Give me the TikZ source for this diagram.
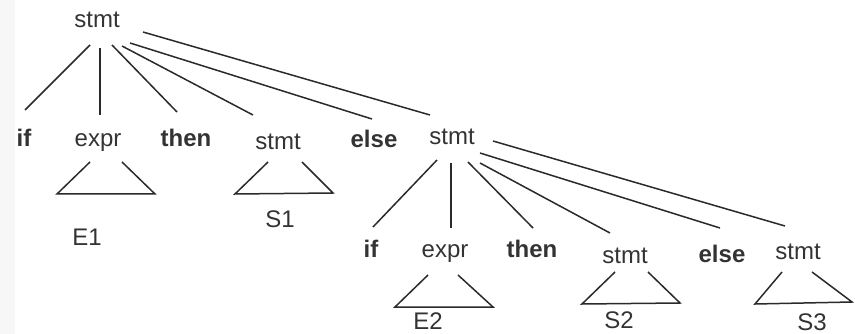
\documentclass[tikz,border=0pt]{standalone}
\usepackage{fontspec}
\setmainfont{Liberation Sans}
\definecolor{ink}{HTML}{2A2A2A}
\definecolor{txt}{HTML}{333333}
\begin{document}
\begin{tikzpicture}[x=1pt,y=-1pt,
  lab/.style={anchor=base,inner sep=0pt,text=txt,font=\fontsize{24}{28}\selectfont},
  kw/.style={lab,font=\fontsize{24}{28}\selectfont\bfseries},
  edge/.style={draw=ink,line width=1.5pt},
  tri/.style={draw=ink,line width=1.5pt}]
\useasboundingbox (0,0) rectangle (855,334);
\fill[black!3] (0,0) rectangle (15,334);
% level 0
\node[lab] (r) at (97,28) {stmt};
% level 1
\node[kw]  (if1) at (24,147) {if};
\node[lab] (ex1) at (98,147) {expr};
\node[kw]  (th1) at (186,147) {then};
\node[lab] (st1) at (278,150) {stmt};
\node[kw]  (el1) at (374,148) {else};
\node[lab] (sm)  at (452,145) {stmt};
\node[lab] (E1)  at (87,245) {E1};
\node[lab] (S1)  at (280,228) {S1};
% level 2
\node[kw]  (if2) at (371,258) {if};
\node[lab] (ex2) at (445,258) {expr};
\node[kw]  (th2) at (532,258) {then};
\node[lab] (st2) at (625,263) {stmt};
\node[kw]  (el2) at (722,262) {else};
\node[lab] (st3) at (798,259) {stmt};
\node[lab] (E2)  at (428,329) {E2};
\node[lab] (S2)  at (619,328) {S2};
\node[lab] (S3)  at (812,330) {S3};
% root edges
\draw[edge] ([shift={(-7,17)}]r.base) -- ([shift={(1,-37)}]if1.base);
\draw[edge] ([shift={(3,20)}]r.base) -- ([shift={(2,-32)}]ex1.base);
\draw[edge] ([shift={(15,17)}]r.base) -- ([shift={(-9,-35)}]th1.base);
\draw[edge] ([shift={(25,18)}]r.base) -- ([shift={(-25,-35)}]st1.base);
\draw[edge] ([shift={(33,15)}]r.base) -- ([shift={(-2,-29)}]el1.base);
\draw[edge] ([shift={(46,4)}]r.base) -- ([shift={(-22,-30)}]sm.base);
% middle stmt edges
\draw[edge] ([shift={(-15,15)}]sm.base) -- ([shift={(2,-31)}]if2.base);
\draw[edge] ([shift={(-1,18)}]sm.base) -- ([shift={(6,-30)}]ex2.base);
\draw[edge] ([shift={(16,17)}]sm.base) -- ([shift={(1,-30)}]th2.base);
\draw[edge] ([shift={(28,18)}]sm.base) -- ([shift={(-15,-30)}]st2.base);
\draw[edge] ([shift={(28,8)}]sm.base) -- ([shift={(-2,-34)}]el2.base);
\draw[edge] ([shift={(41,-4)}]sm.base) -- ([shift={(-13,-33)}]st3.base);
% subtree triangles
\draw[tri] ([shift={(-8,15)}]ex1.base) -- ([shift={(-41,47)}]ex1.base) -- ([shift={(57,47)}]ex1.base) -- ([shift={(24,15)}]ex1.base);
\draw[tri] ([shift={(-10,12)}]st1.base) -- ([shift={(-43,44)}]st1.base) -- ([shift={(55,43)}]st1.base) -- ([shift={(24,12)}]st1.base);
\draw[tri] ([shift={(-17,17)}]ex2.base) -- ([shift={(-50,49)}]ex2.base) -- ([shift={(48,49)}]ex2.base) -- ([shift={(13,17)}]ex2.base);
\draw[tri] ([shift={(-10,9)}]st2.base) -- ([shift={(-43,41)}]st2.base) -- ([shift={(55,40)}]st2.base) -- ([shift={(23,9)}]st2.base);
\draw[tri] ([shift={(-16,13)}]st3.base) -- ([shift={(-43,45)}]st3.base) -- ([shift={(54,43)}]st3.base) -- ([shift={(14,13)}]st3.base);
\end{tikzpicture}
\end{document}
